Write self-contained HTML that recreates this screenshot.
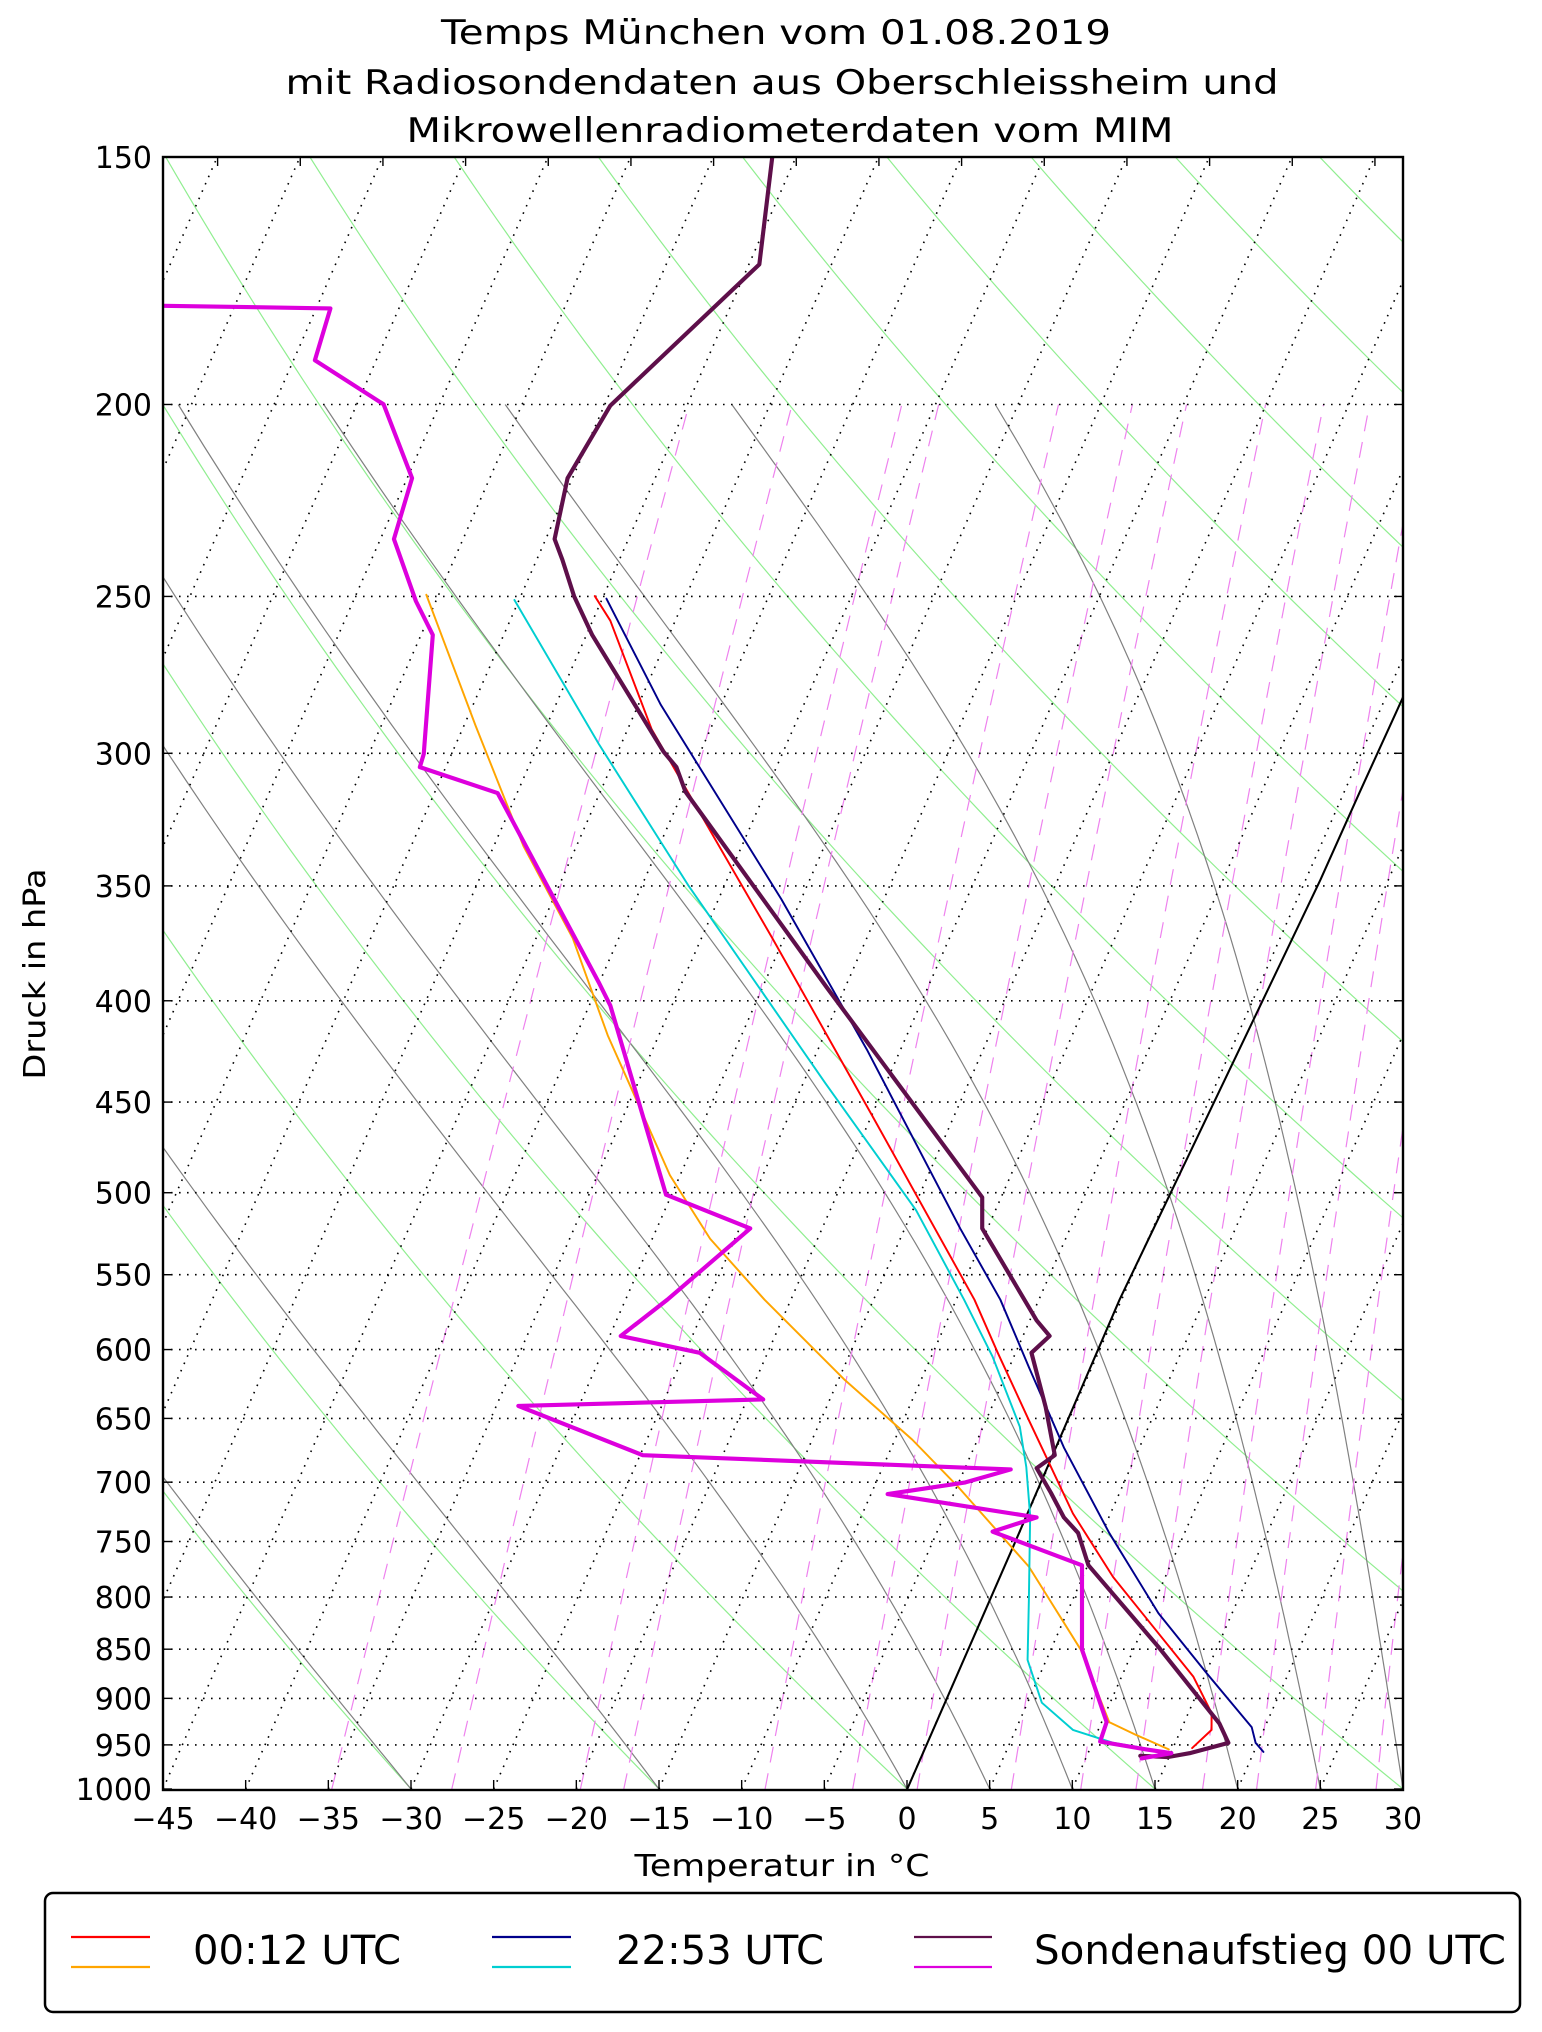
<!DOCTYPE html>
<html><head><meta charset="utf-8">
<style>
html,body{margin:0;padding:0;background:#fff;}
svg{display:block;font-family:"DejaVu Sans","Liberation Sans",sans-serif;}
</style></head>
<body>
<svg id="s" xmlns="http://www.w3.org/2000/svg" width="1542" height="2032" viewBox="0 0 1542 2032">
<defs><clipPath id="cp"><rect x="163" y="157" width="1240" height="1633"/></clipPath></defs>
<rect width="1542" height="2032" fill="#fff"/>
<g id="bg" clip-path="url(#cp)"></g>
<g clip-path="url(#cp)">
<g transform="scale(1.2958)" fill="none" stroke-linejoin="round" stroke-linecap="round">
<polyline stroke="#000" stroke-width="1.6" points="700,1381 783,1191 864,1003 1019,679 1049,612 1096,509"/>
<polyline stroke="#ff0000" stroke-width="1.5" points="459,460 471,479 503,563 596,724 672,859 752,1003 770,1044 794,1096 811,1132 828,1168 859,1217 921,1294 935,1322 935,1335 920,1349"/>
<polyline stroke="#ffa500" stroke-width="1.5" points="329,459 367,560 404,653 442,724 469,799 517,907 548,956 590,1003 652,1065 704,1111 739,1147 794,1209 834,1273 856,1329 877,1339 902,1350"/>
<polyline stroke="#00008b" stroke-width="1.5" points="468,462 510,544 603,694 669,810 741,948 772,1003 794,1055 821,1117 856,1183 894,1245 931,1291 966,1333 969,1345 975,1352"/>
<polyline stroke="#00ced1" stroke-width="1.5" points="397,463 462,574 531,683 637,836 707,934 744,1003 766,1047 787,1101 792,1132 795,1170 794,1235 793,1281 804,1314 828,1335 859,1345 877,1348"/>
<polyline stroke="#5e0f4a" stroke-width="3.2" points="596,121 586,204 471,313 438,369 428,416 434,432 443,460 457,490 512,580 522,592 529,611 638,762 758,924 758,948 800,1019 810,1031 796,1044 807,1086 814,1123 800,1133 811,1152 821,1171 832,1183 840,1208 894,1271 941,1330 948,1345 918,1353 901,1356 880,1355"/>
<polyline stroke="#dd00dd" stroke-width="3.2" points="126,236 255,238 243,278 296,312 318,369 304,416 321,464 334,490 327,582 324,592 384,612 462,758 471,776 514,922 579,948 515,1003 479,1031 540,1044 589,1080 400,1085 496,1123 780,1134 745,1144 685,1153 800,1171 766,1182 835,1208 835,1273 854,1329 849,1344 884,1350 904,1353 881,1357"/>
</g></g>
<rect x="163" y="157" width="1240" height="1633" fill="none" stroke="#000" stroke-width="2.4"/>
<g id="ticks" stroke="#000" stroke-width="1.4"></g>
<g id="labels" font-size="30" fill="#000"></g>
<g font-size="34" fill="#000" text-anchor="middle">
<text x="776" y="44" textLength="670" lengthAdjust="spacingAndGlyphs">Temps München vom 01.08.2019</text>
<text x="782" y="94" textLength="993" lengthAdjust="spacingAndGlyphs">mit Radiosondendaten aus Oberschleissheim und</text>
<text x="790" y="142" textLength="767" lengthAdjust="spacingAndGlyphs">Mikrowellenradiometerdaten vom MIM</text>
</g>
<text x="782" y="1876" font-size="30" text-anchor="middle" textLength="295" lengthAdjust="spacingAndGlyphs">Temperatur in °C</text>
<text transform="translate(45,974) rotate(-90)" font-size="30" text-anchor="middle" textLength="211" lengthAdjust="spacingAndGlyphs">Druck in hPa</text>
<rect x="45" y="1893" width="1475" height="119" rx="8" fill="#fff" stroke="#000" stroke-width="2.5"/>
<g stroke-width="2.2">
<line x1="71" y1="1937" x2="150" y2="1937" stroke="#ff0000"/>
<line x1="71" y1="1967" x2="150" y2="1967" stroke="#ffa500"/>
<line x1="492" y1="1937" x2="571" y2="1937" stroke="#00008b"/>
<line x1="492" y1="1967" x2="571" y2="1967" stroke="#00ced1"/>
<line x1="914" y1="1937" x2="992" y2="1937" stroke="#5e0f4a"/>
<line x1="914" y1="1967" x2="992" y2="1967" stroke="#dd00dd"/>
</g>
<g font-size="40" fill="#000">
<text x="193" y="1964" textLength="208" lengthAdjust="spacingAndGlyphs">00:12 UTC</text>
<text x="616" y="1964" textLength="208" lengthAdjust="spacingAndGlyphs">22:53 UTC</text>
<text x="1034" y="1964" textLength="472" lengthAdjust="spacingAndGlyphs">Sondenaufstieg 00 UTC</text>
</g>
</svg>
<script>
(function(){
var NS="http://www.w3.org/2000/svg";
var L=163,R=1403,T=157,B=1789,H=B-T,SK=0.4385,PX=1240/75;
function Y(p){return T+Math.log(p/150)/Math.log(1000/150)*H;}
function X(t,p){return L+(t+45)*PX+SK*(B-Y(p));}
var bg=document.getElementById('bg');
function path(d,attrs){var e=document.createElementNS(NS,'path');e.setAttribute('d',d);e.setAttribute('fill','none');for(var k in attrs)e.setAttribute(k,attrs[k]);bg.appendChild(e);}
function curve(f,p0,p1){var d='',n=80;for(var i=0;i<=n;i++){var p=p0*Math.pow(p1/p0,i/n);var t=f(p);d+=(i?'L':'M')+X(t,p).toFixed(1)+','+Y(p).toFixed(1);}return d;}
for(var k=-3;k<=15;k++){(function(th){path(curve(function(p){return th*Math.pow(p/1000,0.2857)-273.15;},1000,150),{stroke:'#90ee90','stroke-width':1.2});})(273.15+15*k);}
function esat(t){return 6.112*Math.exp(17.67*t/(t+243.5));}
[-30,-15,0,5,10,15,20,25,30].forEach(function(t0){
 var p=1000,t=t0+273.15,d='M'+X(t0,1000).toFixed(1)+','+Y(1000).toFixed(1);var dp=-2;
 while(p>200){var tc=t-273.15;var es=esat(tc);var rs=0.622*es/(p-es);var Lv=2.501e6,Rd=287.04,cp=1005.7;
  var dtdp=(Rd*t+Lv*rs)/(p*(cp+Lv*Lv*rs*0.622/(Rd*t*t)));t+=dtdp*dp;p+=dp;
  if(Math.round(p)%10==0)d+='L'+X(t-273.15,p).toFixed(1)+','+Y(p).toFixed(1);}
 path(d,{stroke:'#808080','stroke-width':1.2});});
[0.2,0.4,0.8,1,2,3,4,6,8,10,13,16,20,25].forEach(function(w){
 path(curve(function(p){var e=w*p/(622+w);var l=Math.log(e/6.112);return 243.5*l/(17.67-l);},1000,200),{stroke:'#ee82ee','stroke-width':1.2,'stroke-dasharray':'16,11'});});
for(var tt=-120;tt<=30;tt+=5){path('M'+X(tt,1000).toFixed(1)+','+B+'L'+X(tt,150).toFixed(1)+','+T,{stroke:'#000','stroke-width':1.6,'stroke-dasharray':'1.6,6.4'});}
var ps=[200,250,300,350,400,450,500,550,600,650,700,750,800,850,900,950];
ps.forEach(function(p){path('M'+L+','+Y(p).toFixed(1)+'H'+R,{stroke:'#000','stroke-width':1.6,'stroke-dasharray':'1.6,6.4'});});
var tk=document.getElementById('ticks'),lb=document.getElementById('labels');
function ln(x1,y1,x2,y2){var e=document.createElementNS(NS,'line');e.setAttribute('x1',x1);e.setAttribute('y1',y1);e.setAttribute('x2',x2);e.setAttribute('y2',y2);tk.appendChild(e);}
function tx(x,y,s,a){var e=document.createElementNS(NS,'text');e.setAttribute('x',x);e.setAttribute('y',y);e.setAttribute('text-anchor',a);e.textContent=s;lb.appendChild(e);}
[150].concat(ps).concat([1000]).forEach(function(p){var y=Y(p);ln(L,y,L+9,y);ln(R,y,R-9,y);tx(152,y+11,String(p),'end');});
for(var t=-45;t<=30;t+=5){var x=L+(t+45)*PX;ln(x,B,x,B-9);tx(x,1829,(t<0?'\u2212':'')+Math.abs(t),'middle');}
for(var i=0;i<16;i++){var x=L+54.6+i*PX*5;if(x<R)ln(x,T,x,T+9);}
})();
</script>
</body></html>
